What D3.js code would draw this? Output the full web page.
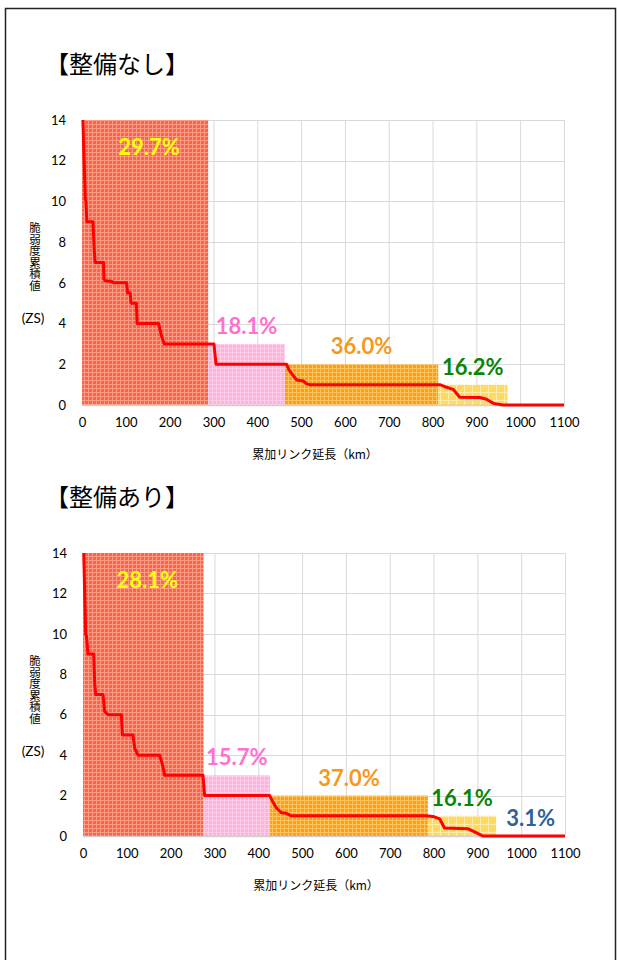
<!DOCTYPE html>
<html><head><meta charset="utf-8">
<script src="https://cdn.jsdelivr.net/npm/d3@7"></script>
<style>body{margin:0;background:#fff} svg{display:block}</style>
</head><body><svg id="c" width="617" height="960"></svg>
<script>
// ---------- data ----------
const xTicks = [0,100,200,300,400,500,600,700,800,900,1000,1100];
const yTicks = [0,2,4,6,8,10,12,14];
const chartTitles = ["【整備なし】","【整備あり】"];
const xAxisTitle = "累加リンク延長（km）";
const yAxisTitle = "脆弱度累積値";
const yAxisUnit = "(ZS)";

const bandKinds = ["red","pink","orange","yellow","none"];

// 整備なし
const bandStart1 = [0,288,463,813];
const bandEnd1   = [288,463,813,971];
const bandHeight1 = [14,3,2,1];
const bandLabel1 = ["29.7%","18.1%","36.0%","16.2%"];
const lineX1 = [2,7.6,9,11,25,28,30,49,50,53,70,72,102,104,110,112,124,126,175,178,182,188,301,306,467,473,480,490,505,512,519,817,832,847,862,908,923,939,961,1100];
const lineY1 = [14,10.1,10,9,9,7.6,7,7,6.2,6.1,6.05,6,6,5.5,5.5,5,5,4,4,3.7,3.35,3,3,2,2,1.7,1.5,1.23,1.18,1.05,1,1,0.87,0.77,0.38,0.37,0.28,0.08,0,0];

// 整備あり
const bandStart2 = [0,275,427,787,943];
const bandEnd2   = [275,427,787,943,1100];
const bandHeight2 = [14,3,2,1,0];
const bandLabel2 = ["28.1%","15.7%","37.0%","16.1%","3.1%"];
const lineX2 = [1.6,6.2,8,11.4,24.4,26.7,29,45.6,49.5,57,87.6,89.8,114,118,125.5,175,182.5,186.4,273.8,277.7,426,433,441,452.6,464,475.5,783,798.6,813.8,825,878,890,905,912.6,1100];
const lineY2 = [14,9.95,9.9,9,9,7.55,7,7,6.15,6,6,5,5,4.34,4,4,3.43,3,3,2,2,1.7,1.4,1.15,1.12,1,1,0.97,0.85,0.4,0.36,0.24,0.08,0,0];

// ---------- styles ----------
const labelColor = {red:"#FFFF00", pink:"#FF70CF", orange:"#F7981D", yellow:"#078507", none:"#31609A"};
const svg = d3.select("#c");

// page frame
svg.append("rect").attr("x",5.5).attr("y",8.5).attr("width",610).attr("height",1000)
  .attr("fill","none").attr("stroke","#222").attr("stroke-width",1.5);

// patterns
const defs = svg.append("defs");
function pattern(id, size, base, light){
  const p = defs.append("pattern").attr("id",id).attr("patternUnits","userSpaceOnUse")
    .attr("width",size).attr("height",size);
  p.append("rect").attr("width",size).attr("height",size).attr("fill",base);
  p.append("rect").attr("width",size).attr("height",1).attr("fill",light);
  p.append("rect").attr("width",1).attr("height",size).attr("fill",light);
}
pattern("p-red",4,"#FF6347","#FF9A85");
pattern("p-pink",4,"#FFB2D9","#FFCCE7");
pattern("p-orange",4,"#FF9E14","#FFC25C");
pattern("p-yellow",8,"#FFD964","#FFEDAE");

function drawChart(cfg){
  const x = d3.scaleLinear().domain([0,1100]).range([cfg.left,cfg.right]);
  const y = d3.scaleLinear().domain([0,14]).range([cfg.bottom,cfg.top]);
  const g = svg.append("g");

  // title
  g.append("text").attr("x",45).attr("y",cfg.top-47)
    .attr("font-family","'Noto Sans CJK JP'").attr("font-weight",400).attr("font-size",24).attr("fill","#000")
    .text(cfg.title);

  // grid
  g.append("g").selectAll("line.v").data(xTicks.slice(1)).join("line")
    .attr("x1",d=>x(d)+0.5).attr("x2",d=>x(d)+0.5).attr("y1",cfg.top).attr("y2",cfg.bottom)
    .attr("stroke","#D9D9D9").attr("stroke-width",1);
  g.append("g").selectAll("line.h").data(yTicks.slice(1)).join("line")
    .attr("x1",cfg.left).attr("x2",cfg.right).attr("y1",d=>Math.round(y(d))+0.5).attr("y2",d=>Math.round(y(d))+0.5)
    .attr("stroke","#D9D9D9").attr("stroke-width",1);

  // bands
  const bands = cfg.start.map((s,i)=>({s, e:cfg.end[i], h:cfg.height[i], label:cfg.labels[i], kind:bandKinds[i]}));
  g.append("g").selectAll("rect").data(bands.filter(b=>b.h>0)).join("rect")
    .attr("x",d=>x(d.s)).attr("width",d=>x(d.e)-x(d.s))
    .attr("y",d=>y(d.h)).attr("height",d=>y(0)-y(d.h))
    .attr("fill",d=>`url(#p-${d.kind})`);

  // axis baseline
  g.append("line").attr("x1",cfg.left).attr("x2",cfg.right).attr("y1",cfg.bottom+0.5).attr("y2",cfg.bottom+0.5)
    .attr("stroke","#D0D0D0").attr("stroke-width",1.5);

  // axes (text only)
  const xa = g.append("g").attr("transform",`translate(0,${cfg.bottom})`)
    .call(d3.axisBottom(x).tickValues(xTicks).tickSize(0).tickPadding(13).tickFormat(d3.format("d")));
  xa.select(".domain").remove();
  xa.selectAll("text").attr("font-family","Lato").attr("font-size",13).attr("fill","#000");
  const ya = g.append("g").attr("transform",`translate(${cfg.left},0)`)
    .call(d3.axisLeft(y).tickValues(yTicks).tickSize(0).tickPadding(16).tickFormat(d3.format("d")));
  ya.select(".domain").remove();
  ya.selectAll("text").attr("font-family","Lato").attr("font-size",13).attr("fill","#000");

  // axis titles
  g.append("text").attr("x",(cfg.left+cfg.right)/2-8).attr("y",cfg.bottom+54)
    .attr("text-anchor","middle").attr("font-family","'Noto Sans CJK JP'").attr("font-size",12).attr("fill","#000")
    .text(xAxisTitle);
  g.append("text").attr("x",35).attr("y",cfg.top+102)
    .attr("writing-mode","vertical-rl").style("text-orientation","upright")
    .attr("font-family","'Noto Sans CJK JP'").attr("font-size",11.5).attr("fill","#000")
    .text(yAxisTitle);
  g.append("text").attr("x",33).attr("y",cfg.top+203)
    .attr("text-anchor","middle").attr("font-family","Lato").attr("font-size",13.5).attr("fill","#000")
    .text(yAxisUnit);

  // line
  const pts = cfg.lx.map((v,i)=>[v,cfg.ly[i]]);
  g.append("path").datum(pts)
    .attr("d",d3.line().x(d=>x(d[0])).y(d=>y(d[1])))
    .attr("fill","none").attr("stroke","#FF0000").attr("stroke-width",3).attr("stroke-linejoin","round");

  // band labels
  g.append("g").selectAll("text").data(bands).join("text")
    .attr("x",d=>x((d.s+d.e)/2)+ (d.h===14?4:0))
    .attr("y",d=> d.h===14 ? y(d.h)+35 : y(d.h)-10)
    .attr("text-anchor","middle").attr("font-family","Lato").attr("font-weight","bold")
    .attr("font-size",22).attr("fill",d=>labelColor[d.kind])
    .text(d=>d.label);
}

drawChart({title:chartTitles[0], left:82, right:564, top:120, bottom:405,
  start:bandStart1, end:bandEnd1, height:bandHeight1, labels:bandLabel1, lx:lineX1, ly:lineY1});
drawChart({title:chartTitles[1], left:83, right:565, top:553, bottom:836,
  start:bandStart2, end:bandEnd2, height:bandHeight2, labels:bandLabel2, lx:lineX2, ly:lineY2});
</script></body></html>
